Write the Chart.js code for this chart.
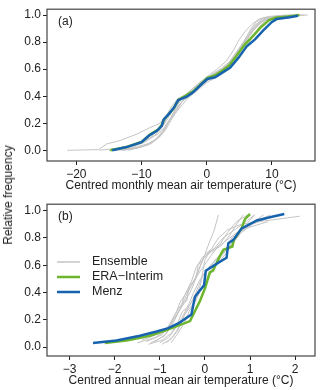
<!DOCTYPE html>
<html>
<head>
<meta charset="utf-8">
<script src="https://cdn.jsdelivr.net/npm/chart.js@4"></script>
<style>
  body { margin: 0; background: #fff; }
  #wrap { position: relative; width: 320px; height: 390px; }
  canvas { position: absolute; left: 0; }
  #ytitle {
    position: absolute; left: 8px; top: 195px;
    transform: translate(-50%, -50%) rotate(-90deg);
    font: 12px 'Liberation Sans', Arial, sans-serif; color: #222; white-space: nowrap;
  }
</style>
</head>
<body>
<div id="wrap">
  <canvas id="chartA" width="320" height="195" style="top:0"></canvas>
  <canvas id="chartB" width="320" height="195" style="top:195px"></canvas>
  <div id="ytitle">Relative frequency</div>
</div>
<script>
// ---- panel (a): monthly values, [temperature, frequency]
const menzA = [[-14.5,0],[-12.3,0.024],[-10,0.06],[-8.9,0.108],[-7.65,0.144],[-6.9,0.18],[-6.6,0.228],[-5.9,0.264],[-5.1,0.31],[-4.35,0.372],[-3.06,0.396],[-2.05,0.43],[-0.77,0.49],[0.1,0.527],[1.27,0.54],[2.45,0.576],[3.57,0.61],[4.84,0.683],[6.1,0.767],[7.4,0.82],[8.67,0.887],[9.95,0.947],[10.7,0.97],[12.75,0.983],[14,0.995]];
const eraA = [[-14.8,0],[-12.3,0.025],[-10,0.062],[-8.6,0.12],[-7.4,0.155],[-6.9,0.19],[-6.5,0.23],[-5.8,0.27],[-5,0.315],[-4.4,0.37],[-3.2,0.405],[-2,0.44],[-0.8,0.495],[0.1,0.535],[1.3,0.555],[2.4,0.59],[3.4,0.625],[4.6,0.7],[5.8,0.78],[7,0.84],[8.2,0.905],[9.5,0.96],[10.5,0.98],[12.5,0.99],[14.2,1.0]];
const ensembleA = [
  [[-21.4,0],[-16.6,0.005],[-15.3,0.048],[-13.3,0.072],[-10.7,0.12],[-8.7,0.168],[-7.2,0.2],[-6.3,0.25],[-5.3,0.33],[-4.5,0.38],[-2.5,0.43],[-0.5,0.5],[1,0.56],[3,0.62],[4.5,0.7],[5.8,0.8],[7,0.88],[8.3,0.95],[9.5,0.98],[12,0.99],[15,1.0]],
  [[-16.5,0],[-13.5,0.015],[-11,0.04],[-9,0.08],[-7.5,0.12],[-6.5,0.17],[-5.8,0.22],[-5,0.28],[-4,0.35],[-2.5,0.41],[-1,0.47],[0.5,0.53],[2,0.58],[3.5,0.64],[4.8,0.72],[5.8,0.8],[6.8,0.87],[7.8,0.93],[9,0.97],[10.5,0.99],[13,1.0]],
  [[-13.5,0],[-11,0.02],[-9,0.05],[-7.5,0.09],[-6.5,0.14],[-6,0.2],[-5.2,0.26],[-4.3,0.33],[-3.2,0.39],[-1.8,0.45],[-0.3,0.51],[1.2,0.56],[2.8,0.61],[4.2,0.68],[5.3,0.76],[6.5,0.84],[7.4,0.9],[8.5,0.95],[9.8,0.98],[12.5,0.995],[15.5,1.0]],
  [[-12.8,0],[-10.5,0.02],[-8.5,0.05],[-7.2,0.1],[-6.2,0.16],[-5.5,0.22],[-4.6,0.29],[-3.8,0.36],[-2.6,0.42],[-1.2,0.48],[0.4,0.54],[2,0.59],[3.4,0.65],[4.6,0.73],[5.6,0.8],[6.4,0.86],[7.3,0.92],[8.6,0.97],[10.5,0.99],[13.5,1.0]],
  [[-14,0],[-11.5,0.02],[-9.5,0.06],[-8,0.11],[-7,0.16],[-6.3,0.21],[-5.5,0.27],[-4.8,0.34],[-3.6,0.4],[-2,0.46],[-0.5,0.52],[1.5,0.57],[3,0.62],[4.2,0.69],[5.2,0.76],[6.2,0.83],[7,0.89],[7.8,0.94],[9.2,0.975],[11,0.99],[14.5,1.0]],
  [[-13,0],[-10.8,0.015],[-9,0.04],[-7.8,0.08],[-6.8,0.13],[-6.2,0.18],[-5.4,0.24],[-4.2,0.31],[-3,0.38],[-1.5,0.44],[0,0.5],[1.8,0.55],[3.2,0.6],[4.8,0.68],[6,0.76],[7.2,0.85],[8,0.91],[9,0.96],[10.2,0.985],[12,1.0]],
  [[-15,0],[-12.5,0.02],[-10.2,0.05],[-8.8,0.09],[-7.6,0.14],[-6.6,0.19],[-6,0.25],[-5,0.32],[-3.8,0.38],[-2.2,0.44],[-0.8,0.5],[0.8,0.56],[2.4,0.61],[3.8,0.67],[5,0.75],[6,0.83],[6.8,0.9],[7.6,0.95],[8.8,0.98],[11.5,0.995],[14,1.0]],
  [[-12,0],[-10,0.025],[-8.3,0.06],[-7.3,0.11],[-6.4,0.17],[-5.6,0.23],[-4.9,0.3],[-4,0.37],[-2.8,0.43],[-1.4,0.49],[0.2,0.55],[1.6,0.6],[3,0.66],[4.1,0.74],[5,0.82],[5.9,0.88],[6.9,0.93],[8,0.97],[9.5,0.99],[12.8,1.0]]
];

// ---- panel (b): annual values
const menzB = [[-2.48,0.029],[-1.96,0.048],[-1.44,0.083],[-1.07,0.114],[-0.81,0.138],[-0.56,0.179],[-0.3,0.238],[-0.22,0.369],[-0.11,0.417],[-0.02,0.452],[0.02,0.56],[0.3,0.619],[0.48,0.655],[0.52,0.762],[0.63,0.786],[0.81,0.869],[1.15,0.929],[1.44,0.952],[1.76,0.976]];
const eraB = [[-2.22,0.029],[-1.74,0.048],[-1.22,0.083],[-0.85,0.124],[-0.33,0.19],[-0.11,0.338],[0,0.429],[0.11,0.548],[0.18,0.56],[0.33,0.667],[0.41,0.714],[0.61,0.738],[0.64,0.786],[0.81,0.869],[0.89,0.94],[1.0,0.976]];
const ensembleB = [
  [[-1.5,0.03],[-1.1,0.07],[-0.85,0.12],[-0.7,0.2],[-0.5,0.3],[-0.3,0.42],[-0.15,0.55],[0,0.68],[0.15,0.72],[0.3,0.8],[0.5,0.86],[0.8,0.9],[1.2,0.92],[2.1,0.96]],
  [[-1.2,0.03],[-0.9,0.08],[-0.75,0.15],[-0.6,0.25],[-0.45,0.35],[-0.3,0.45],[-0.2,0.52],[-0.1,0.6],[0,0.68],[0.1,0.77],[0.2,0.85],[0.3,0.97]],
  [[-1.0,0.03],[-0.8,0.07],[-0.65,0.14],[-0.5,0.22],[-0.35,0.32],[-0.25,0.4],[-0.1,0.5],[0.05,0.57],[0.25,0.65],[0.5,0.72],[0.75,0.82],[1.0,0.9],[1.3,0.97]],
  [[-1.4,0.05],[-1.0,0.1],[-0.7,0.18],[-0.55,0.28],[-0.45,0.38],[-0.3,0.48],[-0.2,0.58],[-0.05,0.66],[0.2,0.72],[0.4,0.8],[0.7,0.87],[0.95,0.93],[1.1,0.97]],
  [[-0.85,0.03],[-0.7,0.08],[-0.55,0.16],[-0.45,0.24],[-0.3,0.3],[-0.15,0.38],[0,0.46],[0.1,0.55],[0.3,0.62],[0.5,0.7],[0.65,0.8],[0.85,0.88],[1.2,0.93],[1.45,0.97]],
  [[-1.3,0.04],[-0.95,0.09],[-0.8,0.16],[-0.65,0.24],[-0.55,0.33],[-0.4,0.4],[-0.25,0.48],[-0.1,0.56],[0.05,0.63],[0.2,0.7],[0.35,0.76],[0.5,0.84],[0.7,0.92],[0.95,0.97]],
  [[-0.95,0.02],[-0.75,0.06],[-0.6,0.12],[-0.5,0.2],[-0.4,0.27],[-0.25,0.36],[-0.15,0.44],[-0.05,0.52],[0.15,0.6],[0.35,0.68],[0.6,0.75],[0.8,0.84],[1.05,0.9],[1.35,0.94]],
  [[-1.1,0.04],[-0.85,0.1],[-0.7,0.22],[-0.55,0.3],[-0.4,0.34],[-0.35,0.45],[-0.2,0.5],[-0.15,0.6],[0,0.66],[0.15,0.7],[0.35,0.74],[0.55,0.82],[0.7,0.9],[0.85,0.97]],
  [[-0.75,0.03],[-0.6,0.1],[-0.45,0.18],[-0.35,0.26],[-0.2,0.34],[-0.1,0.42],[0.05,0.5],[0.2,0.58],[0.3,0.64],[0.45,0.7],[0.55,0.78],[0.7,0.84],[1.0,0.88],[1.4,0.92]],
  [[-1.25,0.02],[-0.95,0.05],[-0.75,0.1],[-0.6,0.18],[-0.5,0.26],[-0.35,0.3],[-0.2,0.38],[-0.1,0.45],[-0.05,0.55],[0,0.64],[0.1,0.7],[0.3,0.74],[0.55,0.8],[0.8,0.86],[1.0,0.93],[1.1,0.97]]
];

const xTicksA = [-20, -10, 0, 10];
const xTicksB = [-3, -2, -1, 0, 1, 2];
const yTicks = [0, 0.2, 0.4, 0.6, 0.8, 1.0];

const FONT = "'Liberation Sans', Arial, sans-serif";
const GREY = '#c4c4c4', GREEN = '#6cb52d', BLUE = '#1763ae';

function toXY(arr) { return arr.map(p => ({ x: p[0], y: p[1] })); }
function minus(v) { return v < 0 ? '\u2212' + Math.abs(v) : String(v); }

// frame around the plot area + panel letter + optional legend
const framePlugin = {
  id: 'frame',
  afterDraw(chart, args, opts) {
    const { ctx, chartArea: a } = chart;
    ctx.save();
    ctx.strokeStyle = '#444';
    ctx.lineWidth = 1.2;
    ctx.strokeRect(a.left, a.top, a.right - a.left, a.bottom - a.top);
    ctx.fillStyle = '#222';
    ctx.font = '12px ' + FONT;
    ctx.textBaseline = 'middle';
    ctx.fillText(opts.letter, 58, 21.5);
    if (opts.legend) {
      const items = [
        { label: 'Ensemble', color: GREY, w: 1.5 },
        { label: 'ERA\u2212Interim', color: GREEN, w: 2.5 },
        { label: 'Menz', color: BLUE, w: 2.5 }
      ];
      items.forEach((it, i) => {
        const y = 67 + i * 15;
        ctx.strokeStyle = it.color;
        ctx.lineWidth = it.w;
        ctx.beginPath();
        ctx.moveTo(57, y);
        ctx.lineTo(80, y);
        ctx.stroke();
        ctx.fillStyle = '#222';
        ctx.font = '12.5px ' + FONT;
        ctx.fillText(it.label, 92, y);
      });
    }
    ctx.restore();
  }
};

function makeChart(id, menz, era, ens, xr, xTicks, xTitle, letter, legend) {
  const datasets = [
    { label: 'Menz', data: toXY(menz), borderColor: BLUE, borderWidth: 2.5 },
    { label: 'ERA-Interim', data: toXY(era), borderColor: GREEN, borderWidth: 2.5 }
  ];
  ens.forEach((e, i) => datasets.push({ label: 'Ensemble ' + (i + 1), data: toXY(e), borderColor: GREY, borderWidth: 1 }));
  datasets.forEach(d => { d.showLine = true; d.pointRadius = 0; d.fill = false; d.tension = 0; });

  return new Chart(document.getElementById(id), {
    type: 'scatter',
    data: { datasets: datasets },
    options: {
      responsive: false,
      animation: false,
      layout: { padding: { top: 5, right: 5, left: 0, bottom: 0 } },
      plugins: {
        legend: { display: false },
        tooltip: { enabled: false },
        frame: { letter: letter, legend: legend }
      },
      scales: {
        x: {
          type: 'linear', min: xr[0], max: xr[1],
          afterFit: s => { s.height = 34; },
          afterBuildTicks: s => { s.ticks = xTicks.map(v => ({ value: v })); },
          grid: { drawOnChartArea: false, tickLength: 4, tickColor: '#222', tickWidth: 1 },
          border: { display: false },
          ticks: { color: '#222', padding: 2, font: { family: FONT, size: 12 }, callback: v => minus(v), maxRotation: 0 },
          title: { display: true, text: xTitle, color: '#222', font: { family: FONT, size: 12 }, padding: { top: 0, bottom: 2 } }
        },
        y: {
          type: 'linear', min: xr[2], max: xr[3],
          afterFit: s => { s.width = 47; },
          afterBuildTicks: s => { s.ticks = yTicks.map(v => ({ value: v })); },
          grid: { drawOnChartArea: false, tickLength: 4, tickColor: '#222', tickWidth: 1 },
          border: { display: false },
          ticks: { color: '#222', padding: 2, font: { family: FONT, size: 12 }, callback: v => v.toFixed(1) }
        }
      }
    },
    plugins: [framePlugin]
  });
}

makeChart('chartA', menzA, eraA, ensembleA, [-24.5, 16.6, -0.079, 1.043], xTicksA,
  'Centred monthly mean air temperature (\u00b0C)', '(a)', false);
makeChart('chartB', menzB, eraB, ensembleB, [-3.5, 2.44, -0.066, 1.048], xTicksB,
  'Centred annual mean air temperature (\u00b0C)', '(b)', true);
</script>
</body>
</html>
